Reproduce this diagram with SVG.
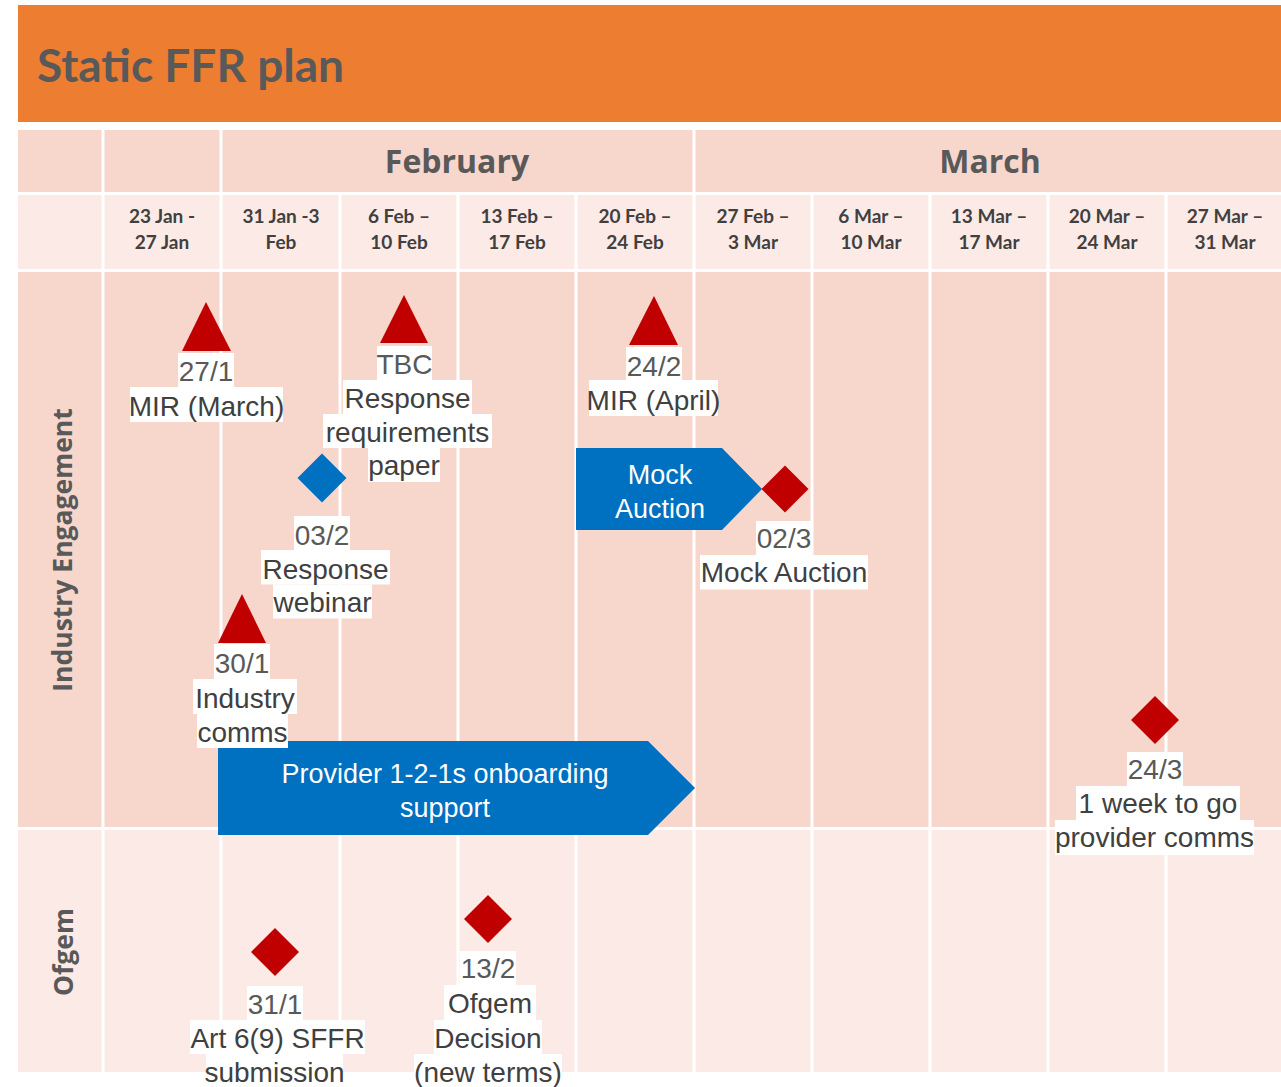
<svg xmlns="http://www.w3.org/2000/svg" width="1281" height="1087" viewBox="0 0 1281 1087">
<style>
  .title{font-family:Lato,"Open Sans",sans-serif;font-weight:bold;font-size:46px;fill:#595959}
  .month{font-family:"Open Sans",Lato,sans-serif;font-weight:bold;font-size:32px;fill:#595959;text-anchor:middle}
  .week{font-family:Lato,"Open Sans",sans-serif;font-weight:bold;font-size:19px;fill:#404040;text-anchor:middle}
  .row{font-family:"Open Sans",Lato,sans-serif;font-weight:bold;font-size:26.5px;fill:#595959;text-anchor:middle}
  .date{font-family:"Liberation Sans",Arial,sans-serif;font-size:28px;fill:#595959;text-anchor:middle}
  .lbl{font-family:"Liberation Sans",Arial,sans-serif;font-size:28px;fill:#404040;text-anchor:middle}
  .bar{font-family:"Liberation Sans",Arial,sans-serif;font-size:27px;fill:#FFFFFF;text-anchor:middle}
  .bg{fill:#FFFFFF}
  .red{fill:#C00000}
  .blue{fill:#0070C0}
  .dark{fill:#F7D6CC}
  .light{fill:#FBEAE5}
  .grid{stroke:#FFFFFF;stroke-width:3}
</style>
<rect width="1281" height="1087" fill="#FFFFFF"/>
<g id="title-bar">
  <rect x="18" y="5" width="1263" height="117" fill="#ED7D31"/>
  <text class="title" x="37" y="82">Static FFR plan</text>
</g>
<g id="table">
  <rect class="dark" x="18" y="130" width="1263" height="63"/>
  <rect class="light" x="18" y="195" width="1263" height="75"/>
  <rect class="dark" x="18" y="272" width="1263" height="556"/>
  <rect class="light" x="18" y="830" width="1263" height="242"/>
  <g class="grid">
    <line x1="18" y1="193.5" x2="1281" y2="193.5"/>
    <line x1="18" y1="270.5" x2="1281" y2="270.5"/>
    <line x1="18" y1="828.5" x2="1281" y2="828.5"/>
    <line x1="103" y1="126" x2="103" y2="1072"/>
    <line x1="221" y1="126" x2="221" y2="1072"/>
    <line x1="694" y1="126" x2="694" y2="1072"/>
    <line x1="340" y1="193" x2="340" y2="1072"/>
    <line x1="458" y1="193" x2="458" y2="1072"/>
    <line x1="576" y1="193" x2="576" y2="1072"/>
    <line x1="812" y1="193" x2="812" y2="1072"/>
    <line x1="930" y1="193" x2="930" y2="1072"/>
    <line x1="1048" y1="193" x2="1048" y2="1072"/>
    <line x1="1166" y1="193" x2="1166" y2="1072"/>
  </g>
  <text class="month" x="457" y="173">February</text>
  <text class="month" x="990" y="173">March</text>
  <g class="week">
    <text x="162" y="223">23 Jan -</text><text x="162" y="249">27 Jan</text>
    <text x="281" y="223">31 Jan -3</text><text x="281" y="249">Feb</text>
    <text x="399" y="223">6 Feb –</text><text x="399" y="249">10 Feb</text>
    <text x="517" y="223">13 Feb –</text><text x="517" y="249">17 Feb</text>
    <text x="635" y="223">20 Feb –</text><text x="635" y="249">24 Feb</text>
    <text x="753" y="223">27 Feb –</text><text x="753" y="249">3 Mar</text>
    <text x="871" y="223">6 Mar –</text><text x="871" y="249">10 Mar</text>
    <text x="989" y="223">13 Mar –</text><text x="989" y="249">17 Mar</text>
    <text x="1107" y="223">20 Mar –</text><text x="1107" y="249">24 Mar</text>
    <text x="1225" y="223">27 Mar –</text><text x="1225" y="249">31 Mar</text>
  </g>
  <text class="row" transform="translate(72,550) rotate(-90)">Industry Engagement</text>
  <text class="row" transform="translate(73,952) rotate(-90)">Ofgem</text>
</g>
<g id="connectors"></g>
<g id="mock-auction-bar">
  <polygon class="blue" points="576,448 722,448 762,489 722,530 576,530"/>
  <text class="bar" x="660" y="484">Mock</text>
  <text class="bar" x="660" y="518">Auction</text>
</g>
<g id="provider-bar">
  <polygon class="blue" points="218,741 648,741 695,788 648,835 218,835"/>
  <text class="bar" x="445" y="783">Provider 1-2-1s onboarding</text>
  <text class="bar" x="445" y="817">support</text>
</g>
<g id="mir-march">
  <polygon class="red" points="206,302 231,351 182,351"/>
  <rect class="bg" x="178" y="353" width="56" height="34.5"/>
  <rect class="bg" x="130" y="387" width="153" height="35"/>
  <text class="date" x="206" y="381">27/1</text>
  <text class="lbl" x="206.5" y="415.5">MIR (March)</text>
</g>
<g id="response-paper">
  <polygon class="red" points="404,295 428,343 380,343"/>
  <rect class="bg" x="377" y="346" width="55" height="34"/>
  <rect class="bg" x="343" y="380" width="129" height="34"/>
  <rect class="bg" x="323" y="414" width="169" height="34"/>
  <rect class="bg" x="368" y="448" width="72" height="34"/>
  <text class="date" x="404.5" y="374">TBC</text>
  <text class="lbl" x="407.5" y="408">Response</text>
  <text class="lbl" x="407.5" y="442">requirements</text>
  <text class="lbl" x="404" y="475">paper</text>
</g>
<g id="response-webinar">
  <polygon class="blue" points="322,453.5 346.5,478 322,502.5 297.5,478"/>
  <rect class="bg" x="294" y="516" width="56" height="34"/>
  <rect class="bg" x="261" y="550" width="129" height="34.5"/>
  <rect class="bg" x="273" y="584.5" width="99" height="34"/>
  <text class="date" x="322" y="545">03/2</text>
  <text class="lbl" x="325.5" y="579">Response</text>
  <text class="lbl" x="322.5" y="612">webinar</text>
</g>
<g id="industry-comms">
  <polygon class="red" points="242,594 266,643 218,643"/>
  <rect class="bg" x="214" y="644" width="56" height="35"/>
  <rect class="bg" x="193" y="679" width="104" height="35"/>
  <rect class="bg" x="197" y="714" width="91" height="34"/>
  <text class="date" x="242" y="673">30/1</text>
  <text class="lbl" x="245" y="708">Industry</text>
  <text class="lbl" x="242.5" y="742">comms</text>
</g>
<g id="mir-april">
  <polygon class="red" points="654,296 678,345 629,345"/>
  <rect class="bg" x="626" y="347" width="56" height="33"/>
  <rect class="bg" x="589" y="380" width="129" height="36"/>
  <text class="date" x="654" y="376">24/2</text>
  <text class="lbl" x="653.5" y="410">MIR (April)</text>
</g>
<g id="mock-auction">
  <polygon class="red" points="785,465.5 808.5,489 785,512.5 761.5,489"/>
  <rect class="bg" x="756" y="521" width="56" height="34"/>
  <rect class="bg" x="700" y="555" width="168" height="34.5"/>
  <text class="date" x="784" y="548">02/3</text>
  <text class="lbl" x="784" y="582">Mock Auction</text>
</g>
<g id="provider-comms">
  <polygon class="red" points="1155,696 1179,720 1155,744 1131,720"/>
  <rect class="bg" x="1127" y="752" width="56" height="34"/>
  <rect class="bg" x="1076" y="786" width="164" height="34"/>
  <rect class="bg" x="1055" y="820" width="199" height="35"/>
  <text class="date" x="1155" y="779">24/3</text>
  <text class="lbl" x="1158" y="813">1 week to go</text>
  <text class="lbl" x="1154.5" y="847">provider comms</text>
</g>
<g id="sffr-submission">
  <polygon class="red" points="275,928 299,952 275,976 251,952"/>
  <rect class="bg" x="247" y="986" width="56" height="34"/>
  <rect class="bg" x="190" y="1020" width="175" height="34"/>
  <rect class="bg" x="206" y="1054" width="137" height="34"/>
  <text class="date" x="275" y="1014">31/1</text>
  <text class="lbl" x="277.5" y="1048">Art 6(9) SFFR</text>
  <text class="lbl" x="274.5" y="1082">submission</text>
</g>
<g id="ofgem-decision">
  <polygon class="red" points="488,895 512,919 488,943 464,919"/>
  <rect class="bg" x="460" y="951" width="56" height="34"/>
  <rect class="bg" x="444" y="985" width="92" height="35"/>
  <rect class="bg" x="434" y="1020" width="108" height="34"/>
  <rect class="bg" x="414" y="1054" width="148" height="34"/>
  <text class="date" x="488" y="978">13/2</text>
  <text class="lbl" x="490" y="1013">Ofgem</text>
  <text class="lbl" x="488" y="1048">Decision</text>
  <text class="lbl" x="488" y="1082">(new terms)</text>
</g>
</svg>
